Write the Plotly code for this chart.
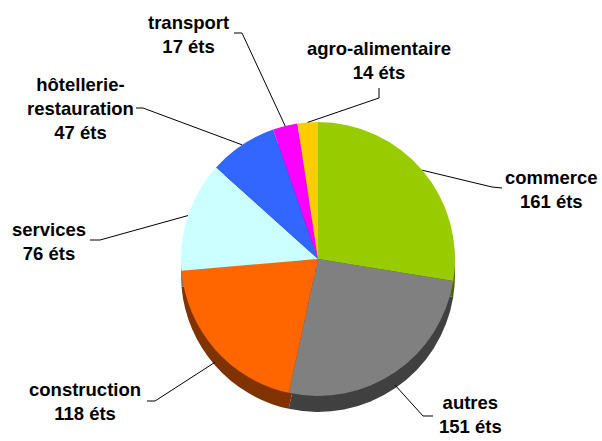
import numpy as np
import plotly.graph_objects as go

# ---- data ----
categories = ["commerce", "autres", "construction", "services",
              "hôtellerie-restauration", "transport", "agro-alimentaire"]
label_texts = ["commerce", "autres", "construction", "services",
               "hôtellerie-<br>restauration", "transport", "agro-alimentaire"]
values = [161, 151, 118, 76, 47, 17, 14]
unit = "éts"

colors_top = ["#99CC00", "#808080", "#FF6600", "#CCFFFF", "#3366FF", "#FF00FF", "#FFCC00"]
colors_side = ["#4D6600", "#404040", "#803300", "#668080", "#1A3380", "#800080", "#806600"]

W, H = 602, 441
cx, cy, R = 318, 259, 137       # pie centre / radius in px
depth = 16                      # 3D side thickness in px

def px2paper(x, y):
    return x / W, 1 - y / H

def dom(cx_, cy_, r):
    return dict(x=[(cx_ - r) / W, (cx_ + r) / W],
                y=[(H - cy_ - r) / H, (H - cy_ + r) / H])

fig = go.Figure()
# side (shadow) pie
fig.add_trace(go.Pie(values=values, labels=categories, sort=False, direction="clockwise",
                     rotation=0, marker=dict(colors=colors_side, line=dict(width=0)),
                     textinfo="none", hoverinfo="skip", showlegend=False,
                     domain=dom(cx, cy + depth, R)))
# top pie
fig.add_trace(go.Pie(values=values, labels=categories, sort=False, direction="clockwise",
                     rotation=0, marker=dict(colors=colors_top, line=dict(width=0)),
                     textinfo="none", showlegend=False,
                     domain=dom(cx, cy, R)))

# label block centres and elbow points (px) - layout only
label_pos = [(551, 189), (470, 414), (85, 401), (49, 241), (80, 109), (188, 35), (379, 61)]
elbows = [[(502, 188), (492, 187)],
          [(433, 416), (423, 416)],
          [(147, 401), (155, 401)],
          [(90, 240), (100, 240)],
          [(136, 108), (143, 108)],
          [(234, 33), (242, 33)],
          [(379, 88), (379, 98)]]

total = float(np.sum(values))
cum = np.cumsum([0] + values)
shapes, annotations = [], []
for i, v in enumerate(values):
    mid = np.deg2rad((cum[i] + v / 2) / total * 360.0)
    ax = cx + R * np.sin(mid)
    ay = cy - R * np.cos(mid)
    if np.cos(mid) < -0.2:
        ay += depth * 0.8
    pts = elbows[i] + [(ax, ay)]
    path = ""
    for j, (x, y) in enumerate(pts):
        px, py = px2paper(x, y)
        path += ("M" if j == 0 else " L") + f" {px:.5f},{py:.5f}"
    shapes.append(dict(type="path", xref="paper", yref="paper", path=path,
                       line=dict(color="black", width=1)))
    lx, ly = px2paper(*label_pos[i])
    annotations.append(dict(x=lx, y=ly, xref="paper", yref="paper",
                            text=f"<b>{label_texts[i]}<br>{v} {unit}</b>",
                            showarrow=False, xanchor="center", yanchor="middle",
                            align="center",
                            font=dict(family="Liberation Sans, Arial, sans-serif",
                                      size=18.5, color="black")))

fig.update_layout(width=W, height=H, margin=dict(l=0, r=0, t=0, b=0),
                  paper_bgcolor="white", plot_bgcolor="white",
                  shapes=shapes, annotations=annotations)
fig.write_html("out.html", config={"displayModeBar": False},
               post_script="document.body.style.margin='0';document.body.style.overflow='hidden';")
